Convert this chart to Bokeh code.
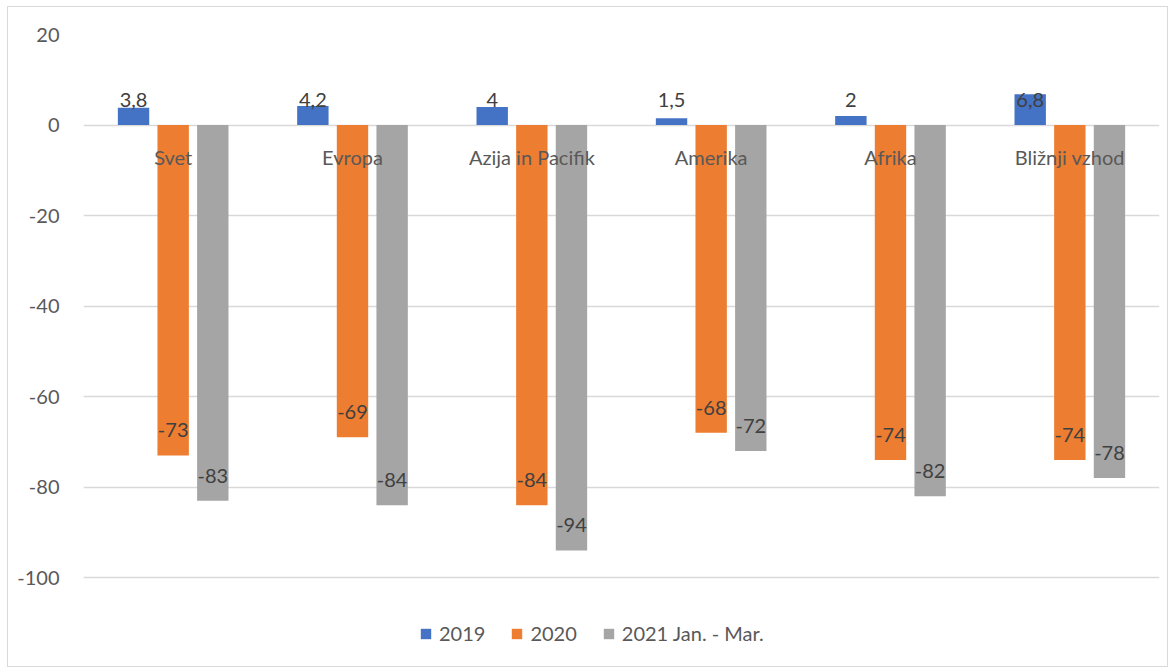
import numpy as np
from bokeh.plotting import figure
from bokeh.models import ColumnDataSource, FactorRange, Range1d, Legend, LegendItem, FixedTicker, CustomJSTickFormatter
from bokeh.transform import dodge
from bokeh.core.properties import value
from bokeh.embed import file_html
from bokeh.resources import INLINE

categories = ["Svet", "Evropa", "Azija in Pacifik", "Amerika", "Afrika", "Bližnji vzhod"]
v2019 = [3.8, 4.2, 4.0, 1.5, 2.0, 6.8]
v2020 = [-73, -69, -84, -68, -74, -74]
v2021 = [-83, -84, -94, -72, -82, -78]
series_names = ["2019", "2020", "2021 Jan. - Mar."]
colors = ["#4472C4", "#ED7D31", "#A5A5A5"]
y_ticks = [-100, -80, -60, -40, -20, 0, 20]

FONT = "Lato"

def fmt(v):
    return f"{v:g}".replace(".", ",")

p = figure(width=1161, height=661, output_backend="svg", toolbar_location=None,
           x_range=FactorRange(*categories, range_padding=0),
           y_range=Range1d(-119.2, 20))
p.styles = {"border": "1px solid #d9d9d9", "margin-left": "7px", "margin-top": "6px"}
p.min_border_left = 75
p.min_border_right = 10
p.min_border_top = 27
p.min_border_bottom = 4
p.outline_line_color = None
p.background_fill_color = "white"
p.border_fill_color = "white"

offsets = [-0.221, 0.0, 0.221]
renderers = []
for name, vals, off, col in zip(series_names, [v2019, v2020, v2021], offsets, colors):
    src = ColumnDataSource(dict(cat=categories, val=vals,
                                lab=[fmt(v) for v in vals],
                                ly=[min(v, 0) for v in vals]))
    r = p.vbar(x=dodge("cat", off, range=p.x_range), top="val", bottom=0, width=0.175,
               source=src, fill_color=col, line_color=None)
    renderers.append((name, r))
    p.text(x=dodge("cat", off, range=p.x_range), y="ly", text="lab", source=src,
           text_align="center", text_baseline="middle", y_offset=-25,
           text_font=value(FONT), text_font_size="20px", text_color="#404040")

cat_src = ColumnDataSource(dict(cat=categories, y=[0] * len(categories)))
p.text(x="cat", y="y", text="cat", source=cat_src, text_align="center",
       text_baseline="middle", y_offset=32, text_font=value(FONT),
       text_font_size="20px", text_color="#595959")

p.xaxis.visible = False
p.xgrid.grid_line_color = None
p.ygrid.grid_line_color = "#d9d9d9"
p.ygrid.grid_line_width = 1.5
p.yaxis.ticker = FixedTicker(ticks=y_ticks)
p.yaxis.formatter = CustomJSTickFormatter(code="return tick.toString();")
p.yaxis.axis_line_color = None
p.yaxis.major_tick_line_color = None
p.yaxis.minor_tick_line_color = None
p.yaxis.major_label_text_font = FONT
p.yaxis.major_label_text_font_size = "20px"
p.yaxis.major_label_text_color = "#595959"
p.yaxis.major_label_standoff = 18

legend = Legend(items=[LegendItem(label=n, renderers=[r]) for n, r in renderers],
                orientation="horizontal", location=(336, 19),
                border_line_color=None, background_fill_alpha=0,
                label_text_font=FONT, label_text_font_size="20px",
                label_text_color="#595959", glyph_width=13, glyph_height=13,
                label_standoff=7, spacing=25, padding=0, margin=0)
p.add_layout(legend, "center")

open("out.html", "w").write(file_html(p, INLINE))
